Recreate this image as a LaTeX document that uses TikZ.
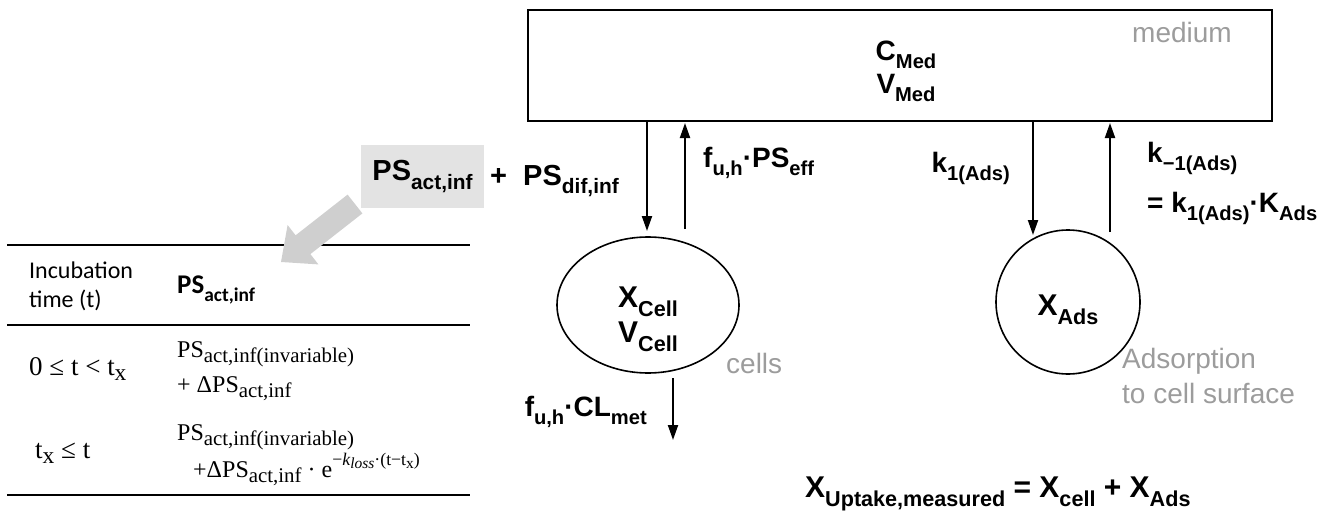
\documentclass[tikz,border=0pt]{standalone}
\usepackage{fontspec}
\setmainfont{Liberation Sans}
\newfontfamily\carl{Carlito}
\newfontfamily\tserif{Liberation Serif}
\usepackage{graphicx}
\usetikzlibrary{arrows.meta,shapes.geometric}
\definecolor{lblgray}{HTML}{9C9C9C}
\definecolor{boxgray}{HTML}{E3E3E3}
\definecolor{arrgray}{HTML}{CFCFCF}
\makeatletter
\newcommand\lo[1]{\raisebox{-0.3em}{\fontsize{\fpeval{0.72*\f@size}}{1}\selectfont #1}}
\newcommand\slo[1]{\raisebox{-0.22em}{\fontsize{\fpeval{0.87*\f@size}}{1}\selectfont #1}}
\newcommand\shi[1]{\raisebox{0.5em}{\fontsize{\fpeval{0.74*\f@size}}{1}\selectfont #1}}
\makeatother
\begin{document}
\begin{tikzpicture}[x=1pt,y=-1pt,
  lbl/.style={inner sep=0pt, font=\bfseries\fontsize{28}{32}\selectfont},
  big/.style={inner sep=0pt, font=\bfseries\fontsize{30}{34}\selectfont},
  note/.style={inner sep=0pt, text=lblgray, font=\fontsize{28}{35}\selectfont, align=left},
  flow/.style={line width=2pt, -{Triangle[length=15pt,width=10pt]}},
  rulel/.style={line width=2.5pt},
  thead/.style={inner sep=0pt, anchor=base west, font=\carl\fontsize{24}{28}\selectfont},
  tmath/.style={inner sep=0pt, anchor=base west, font=\tserif\fontsize{24}{28}\selectfont},
  tcond/.style={inner sep=0pt, anchor=base west, font=\tserif\fontsize{27}{30}\selectfont}]
\useasboundingbox (0,0) rectangle (1336,511);

% medium compartment
\node[draw, line width=2pt, minimum width=744pt, minimum height=111pt, inner sep=0pt] (med) at (900,65.5) {};
\node[lbl, anchor=base] (cmed) at (906,60) {C\lo{Med}};
\node[lbl, anchor=base] (vmed) at (906,93) {V\lo{Med}};
\node[note, anchor=base west] (medlbl) at (1132,43) {medium};

% cells compartment
\node[draw, ellipse, line width=1.6pt, minimum width=182pt, minimum height=136pt, inner sep=0pt] (cell) at (648,305) {};
\node[big, anchor=base] (xcell) at (648,307) {X\lo{Cell}};
\node[big, anchor=base] (vcell) at (648,342) {V\lo{Cell}};
\node[note, anchor=base west] (cellslbl) at (726,373) {cells};

% adsorption compartment
\node[draw, circle, line width=1.6pt, minimum size=144pt, inner sep=0pt] (ads) at (1068,302) {};
\node[big, anchor=base] (xads) at (1068,315) {X\lo{Ads}};
\node[note, anchor=north west] (adslbl) at (1122,348) {Adsorption\\to cell surface};

% arrows
\coordinate (c1) at (647,231);
\coordinate (c2) at (685,229);
\coordinate (c3) at (1033,235);
\coordinate (c4) at (1110,232);
\coordinate (c5s) at (673,378);
\coordinate (c5e) at (673,440);
\draw[flow] (med.south -| c1) -- (c1);
\draw[flow, shorten >=1pt] (c2) -- (med.south -| c2);
\draw[flow] (med.south -| c3) -- (c3);
\draw[flow, shorten >=1pt] (c4) -- (med.south -| c4);
\draw[flow] (c5s) -- (c5e);

% rate labels
\node[lbl, anchor=base west] (fps) at (703,167) {f\lo{u,h}·PS\lo{eff}};
\node[lbl, anchor=base east] (k1) at (1010,172) {k\lo{1(Ads)}};
\node[lbl, anchor=base west] (km1) at (1147,162) {k\lo{−1(Ads)}};
\node[lbl, anchor=base west] (keq) at (1147,212) {= k\lo{1(Ads)}·K\lo{Ads}};
\node[lbl, anchor=base east] (fcl) at (647,416) {f\lo{u,h}·CL\lo{met}};

% PS labels
\node[fill=boxgray, minimum width=123pt, minimum height=63pt, inner sep=0pt, font=\bfseries\fontsize{29}{32}\selectfont] (psact) at (422.5,176.5) {PS\lo{act,inf}};
\node[font=\bfseries\fontsize{29}{32}\selectfont, inner sep=0pt, anchor=base west] (psdif) at (490,185) {+\ \ PS\lo{dif,inf}};

% uptake equation
\node[inner sep=0pt, anchor=base west, font=\bfseries\fontsize{30}{34}\selectfont] (xup) at (805,497) {X\lo{Uptake,measured} = X\lo{cell} + X\lo{Ads}};

% table
\draw[rulel] (7,245) -- (470,245);
\draw[rulel] (7,325) -- (470,325);
\draw[rulel] (7,495) -- (470,495);
\node[thead] (inc) at (29,278) {Incubation};
\node[thead] (tim) at (29,307) {time (t)};
\node[thead, font=\carl\bfseries\fontsize{27}{30}\selectfont] (hps) at (177,293) {PS\lo{act,inf}};
\node[tcond] (r1a) at (29,375) {0 ≤ t < t\slo{x}};
\node[tmath] (r1b) at (177,357) {PS\slo{act,inf(invariable)}};
\node[tmath] (r1c) at (177,392) {+ ΔPS\slo{act,inf}};
\node[tcond] (r2a) at (35,458) {t\slo{x} ≤ t};
\node[tmath] (r2b) at (177,440) {PS\slo{act,inf(invariable)}};
\node[tmath] (r2c) at (193,477) {+ΔPS\slo{act,inf} · e\shi{−\textit{k}\slo{\textit{loss}}·(t−t\slo{x})}};

% big gray arrow from PS_act,inf to the table
\fill[arrgray] (347.6,194.6) -- (362.4,213.4) -- (310.4,254.1) -- (318.4,264.4) -- (281,262) -- (287.6,225.0) -- (295.6,235.3) -- cycle;
\end{tikzpicture}
\end{document}
